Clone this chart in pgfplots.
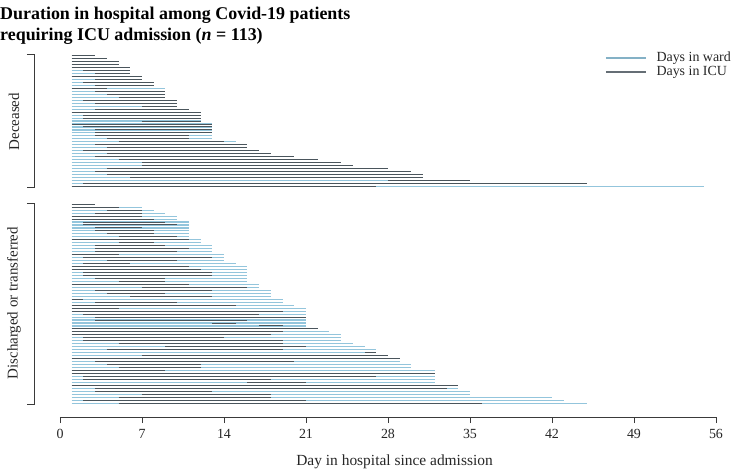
\documentclass[border=0pt]{standalone}
\usepackage{fontspec}
\setmainfont{Liberation Serif}
\usepackage{pgfplots}
\pgfplotsset{compat=1.18}
\usepackage{pgfplotstable}

\definecolor{ward}{HTML}{93C5DC}
\definecolor{icu}{HTML}{4A555C}
\definecolor{axgray}{HTML}{3A3A3A}

% whole stay per patient (row, first day, last day); rows 1-45 deceased, 51-118 discharged
\pgfplotstableread{
y s e
1 1 3
2 1 4
3 1 5
4 1 5
5 1 6
6 1 6
7 1 6
8 1 7
9 1 7
10 1 8
11 1 8
12 1 9
13 1 9
14 1 9
15 1 9
16 1 10
17 1 10
18 1 10
19 1 11
20 1 12
21 1 12
22 1 12
23 1 12
24 1 13
25 1 13
26 1 13
27 1 13
28 1 13
29 1 13
30 1 15
31 1 16
32 1 16
33 1 17
34 1 18
35 1 20
36 1 22
37 1 24
38 1 25
39 1 28
40 1 30
41 1 31
42 1 31
43 1 35
44 1 45
45 1 55
51 1 3
52 1 7
53 1 8
54 1 9
55 1 10
56 1 10
57 1 11
58 1 11
59 1 11
60 1 11
61 1 11
62 1 11
63 1 12
64 1 12
65 1 13
66 1 13
67 1 13
68 1 14
69 1 14
70 1 14
71 1 15
72 1 16
73 1 16
74 1 16
75 1 16
76 1 16
77 1 16
78 1 17
79 1 17
80 1 18
81 1 18
82 1 18
83 1 19
84 1 19
85 1 20
86 1 21
87 1 21
88 1 21
89 1 21
90 1 21
91 1 21
92 1 21
93 1 22
94 1 23
95 1 24
96 1 24
97 1 24
98 1 25
99 1 26
100 1 27
101 1 27
102 1 28
103 1 29
104 1 29
105 1 30
106 1 30
107 1 32
108 1 32
109 1 32
110 1 32
111 1 32
112 1 34
113 1 34
114 1 35
115 1 35
116 1 42
117 1 43
118 1 45
}\stay

% ICU stay per patient
\pgfplotstableread{
y s e
1 1 3
2 1 4
3 1 5
4 1 5
5 1 6
6 2 6
7 3 6
8 1 7
9 3 7
10 2 8
11 3 8
12 1 4
13 3 9
14 4 9
15 5 9
16 2 10
17 3 10
18 7 10
19 3 11
20 1 12
21 2 12
22 2 12
23 7 12
24 1 13
25 2 13
26 3 13
27 3 13
28 3 11
29 4 11
30 5 14
31 3 16
32 4 16
33 2 17
34 4 18
35 3 20
36 5 22
37 7 24
38 7 25
39 4 28
40 3 30
41 4 31
42 6 31
43 28 35
44 2 45
45 1 27
51 1 3
52 1 5
53 4 7
54 3 7
55 1 7
56 1 8
57 2 9
58 2 10
59 3 7
60 3 8
61 4 8
62 5 10
63 1 11
64 5 8
65 3 9
66 3 11
67 3 10
68 1 5
69 2 13
70 4 10
71 2 6
72 1 11
73 1 12
74 2 13
75 2 13
76 3 9
77 5 9
78 1 11
79 7 16
80 3 13
81 4 9
82 6 13
83 1 2
84 3 10
85 1 15
86 1 5
87 1 19
88 2 17
89 3 21
90 3 16
91 13 15
92 17 19
93 1 22
94 1 19
95 1 18
96 2 14
97 2 19
98 5 19
99 9 21
100 4 19
101 26 27
102 7 28
103 1 29
104 3 20
105 4 12
106 5 12
107 1 9
108 1 32
109 2 27
110 2 18
111 16 21
112 1 34
113 3 33
114 3 13
115 7 18
116 5 18
117 2 21
118 5 36
}\icu

\begin{document}
\begin{tikzpicture}
\begin{axis}[
    x=11.714bp, y=2.97bp, y dir=reverse,
    xmin=0, xmax=56, ymin=0, ymax=122.65,
    axis x line*=bottom, axis y line=none,
    x axis line style={axgray, line width=0.8bp},
    xtick={0,7,...,56},
    tick align=outside, major tick length=6bp,
    xtick style={axgray, line width=0.8bp},
    /pgf/number format/assume math mode=true,
    xticklabel style={font=\fontsize{14}{14}\selectfont, text=black!85, yshift=-3bp},
    xlabel={Day in hospital since admission},
    xlabel style={font=\fontsize{15.5}{15.5}\selectfont, text=black!85,
        at={(axis description cs:0.51,0)}, anchor=base, yshift=-48bp},
    clip=false,
    legend style={draw=none, fill=none, at={(axis description cs:1.03,1.012)},
        anchor=north east, font=\fontsize{14}{14}\selectfont,
        nodes={inner sep=1.6bp, text=black!85}, row sep=0bp,
        /tikz/every odd column/.append style={column sep=8bp}},
    legend cell align=left,
    legend image code/.code={\draw[#1, line width=2bp] (0bp,0bp) -- (40bp,0bp);},
  ]
  \addplot[ward, line width=1.1bp, forget plot,
      quiver={u=\thisrow{e}-\thisrow{s}, v=0}] table[x=s, y=y] {\stay};
  \addplot[icu, line width=1bp, forget plot,
      quiver={u=\thisrow{e}-\thisrow{s}, v=0}] table[x=s, y=y] {\icu};

  \addlegendimage{ward!90!black}
  \addlegendentry{Days in ward}
  \addlegendimage{icu!85}
  \addlegendentry{Days in ICU}

  \coordinate (BL) at (axis cs:0,122.65);

  % group brackets and labels
  \draw[axgray, line width=0.8bp] ([xshift=-33bp]axis cs:0,0.6) -- ([xshift=-26bp]axis cs:0,0.6)
      -- ([xshift=-26bp]axis cs:0,45.3) -- ([xshift=-33bp]axis cs:0,45.3);
  \draw[axgray, line width=0.8bp] ([xshift=-33bp]axis cs:0,50.8) -- ([xshift=-26bp]axis cs:0,50.8)
      -- ([xshift=-26bp]axis cs:0,118.3) -- ([xshift=-33bp]axis cs:0,118.3);
  \node[rotate=90, font=\fontsize{15}{15}\selectfont, text=black!85]
      at ([xshift=-46bp]axis cs:0,23.2) {Deceased};
  \node[rotate=90, font=\fontsize{15}{15}\selectfont, text=black!85]
      at ([xshift=-46bp]axis cs:0,84.3) {Discharged or transferred};
\end{axis}

\node[anchor=north west, align=left, inner sep=0pt,
      font=\bfseries\fontsize{18}{21}\selectfont]
  at ([shift={(-60bp,410bp)}]BL)
  {Duration in hospital among Covid-19 patients\\requiring ICU admission (\textit{n} = 113)};

\pgfresetboundingbox
\path[use as bounding box] ([shift={(-60bp,-53bp)}]BL) rectangle ([shift={(672bp,417bp)}]BL);
\end{tikzpicture}
\end{document}
